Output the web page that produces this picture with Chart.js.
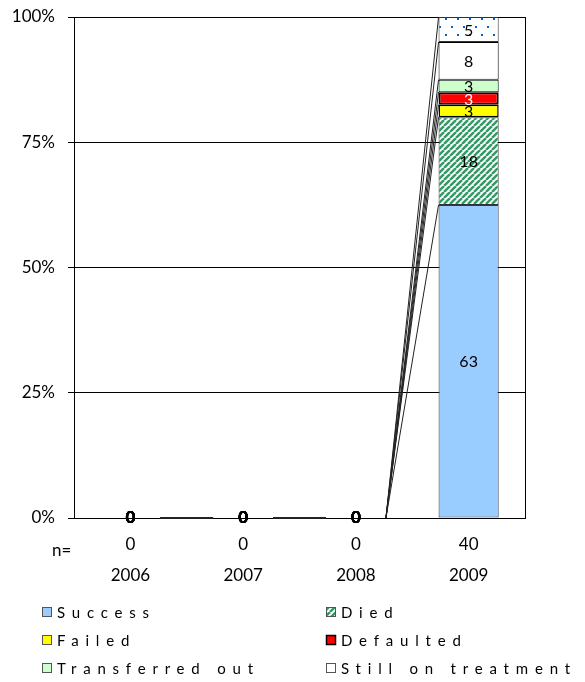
<!DOCTYPE html>
<html>
<head>
<meta charset="utf-8">
<script src="https://cdn.jsdelivr.net/npm/chart.js@4.4.0/dist/chart.umd.min.js"></script>
<style>
  body { margin: 0; background: #fff; }
  #wrap { width: 585px; height: 682px; position: relative; }
</style>
</head>
<body>
<div id="wrap"><canvas id="grafica"></canvas></div>
<script>
// categorias y valores (porcentaje de la cohorte)
const years = ['2006', '2007', '2008', '2009'];
const nValues = [0, 0, 0, 40];
const success = [0, 0, 0, 62.5];
const died = [0, 0, 0, 17.5];
const failed = [0, 0, 0, 2.5];
const defaulted = [0, 0, 0, 2.5];
const transferred = [0, 0, 0, 2.5];
const stillOnTreatment = [0, 0, 0, 7.5];
const notEvaluated = [0, 0, 0, 5];
const yTicks = [0, 25, 50, 75, 100];

// patrones de relleno
function stripePattern() {
  const c = document.createElement('canvas');
  c.width = 6; c.height = 6;
  const g = c.getContext('2d');
  g.fillStyle = '#fff';
  g.fillRect(0, 0, 6, 6);
  g.strokeStyle = '#339966';
  g.lineWidth = 2.5;
  for (let k = -6; k <= 12; k += 6) {
    g.beginPath();
    g.moveTo(k, 6);
    g.lineTo(k + 6, 0);
    g.stroke();
  }
  return g.createPattern(c, 'repeat');
}

function dotPattern() {
  const c = document.createElement('canvas');
  c.width = 24; c.height = 16;
  const g = c.getContext('2d');
  g.fillStyle = '#fff';
  g.fillRect(0, 0, 24, 16);
  g.fillStyle = '#0066CC';
  g.fillRect(1, 2, 2, 2);
  g.fillRect(13, 2, 2, 2);
  g.fillRect(7, 10, 2, 2);
  g.fillRect(19, 10, 2, 2);
  return g.createPattern(c, 'repeat');
}

const ctx = document.getElementById('grafica').getContext('2d');
const diedFill = stripePattern();
const dotsFill = dotPattern();

const series = [
  { label: 'Success', data: success, bg: '#99CCFF', border: '#2a3a4a', bw: 1, text: '#000', legend: true },
  { label: 'Died', data: died, bg: diedFill, border: '#333', bw: 1, text: '#000', legend: true },
  { label: 'Failed', data: failed, bg: '#FFFF00', border: '#000', bw: 1.5, text: '#000', legend: true },
  { label: 'Defaulted', data: defaulted, bg: '#FF0000', border: '#000', bw: 2, text: '#fff', legend: true },
  { label: 'Transferred out', data: transferred, bg: '#CCFFCC', border: '#000', bw: 1, text: '#000', legend: true },
  { label: 'Still on treatment', data: stillOnTreatment, bg: '#FFFFFF', border: '#000', bw: 1, text: '#000', legend: true },
  { label: 'Not evaluated', data: notEvaluated, bg: dotsFill, border: '#333', bw: 1, text: '#000', legend: false }
];

// lineas de serie entre barras (como en Excel)
const seriesLines = {
  id: 'seriesLines',
  afterDatasetsDraw(chart) {
    const c = chart.ctx;
    c.save();
    c.strokeStyle = '#222';
    c.lineWidth = 1;
    chart.data.datasets.forEach((ds, d) => {
      const meta = chart.getDatasetMeta(d);
      for (let i = 0; i < meta.data.length - 1; i++) {
        const a = meta.data[i], b = meta.data[i + 1];
        c.beginPath();
        c.moveTo(a.x + a.width / 2, a.y);
        c.lineTo(b.x - b.width / 2, b.y);
        c.stroke();
      }
    });
    c.restore();
  }
};

// etiquetas de datos
const dataLabels = {
  id: 'dataLabels',
  afterDatasetsDraw(chart) {
    const c = chart.ctx;
    c.save();
    c.textAlign = 'center';
    c.textBaseline = 'middle';
    chart.data.datasets.forEach((ds, d) => {
      const meta = chart.getDatasetMeta(d);
      meta.data.forEach((el, i) => {
        const v = ds.data[i];
        if (v === 0) {
          c.font = 'bold 17px Lato';
          c.fillStyle = '#000';
          c.fillText('0', el.x, el.y);
        } else {
          c.font = '16px Lato';
          c.fillStyle = series[d].text;
          c.fillText(String(Math.round(v)), el.x, (el.y + el.base) / 2 + 1);
        }
      });
    });
    c.restore();
  }
};

// marco, "n=" y leyenda
const extras = {
  id: 'extras',
  afterDraw(chart) {
    const c = chart.ctx;
    const a = chart.chartArea;
    c.save();
    c.strokeStyle = '#000';
    c.lineWidth = 1;
    c.beginPath();
    c.moveTo(a.right + 0.5, a.top);
    c.lineTo(a.right + 0.5, a.bottom);
    c.stroke();

    c.font = '17px Lato';
    c.fillStyle = '#000';
    c.textAlign = 'left';
    c.textBaseline = 'middle';
    c.fillText('n=', 52, 551);

    const items = series.filter(s => s.legend);
    const cols = [42, 326];
    const rows = [612, 640, 668];
    c.font = '15px Lato';
    c.letterSpacing = '6.8px';
    items.forEach((s, k) => {
      const x = cols[k % 2];
      const y = rows[Math.floor(k / 2)];
      c.fillStyle = s.bg;
      c.fillRect(x, y - 5, 10, 10);
      c.strokeStyle = s.label === 'Defaulted' ? '#000' : '#555';
      c.lineWidth = s.label === 'Defaulted' ? 1.5 : 1;
      c.strokeRect(x + 0.5, y - 4.5, 9, 9);
      c.fillStyle = '#000';
      c.fillText(s.label, x + 15, y + 1);
    });
    c.restore();
  }
};

new Chart(ctx, {
  type: 'bar',
  data: {
    labels: years,
    datasets: series.map(s => ({
      label: s.label,
      data: s.data,
      backgroundColor: s.bg,
      borderColor: s.border,
      borderWidth: s.bw,
      borderSkipped: false,
      barPercentage: 60 / 112.5,
      categoryPercentage: 1
    }))
  },
  options: {
    responsive: true,
    maintainAspectRatio: false,
    animation: false,
    layout: { padding: { top: 17, right: 60, left: 0, bottom: 0 } },
    plugins: {
      legend: { display: false },
      tooltip: { enabled: false }
    },
    scales: {
      x: {
        stacked: true,
        grid: { display: false },
        border: { display: true, color: '#000', width: 1 },
        ticks: {
          font: { family: 'Lato', size: 17, lineHeight: 31 / 17 },
          color: '#000',
          padding: 3,
          callback: (v, i) => [String(nValues[i]), years[i]]
        },
        afterFit: s => { s.height = 164; s.paddingLeft = 0; s.paddingRight = 0; }
      },
      y: {
        stacked: true,
        min: 0,
        max: 100,
        afterBuildTicks: s => { s.ticks = yTicks.map(v => ({ value: v })); },
        grid: { color: '#000', lineWidth: 1, tickLength: 6 },
        border: { display: true, color: '#000', width: 1 },
        ticks: {
          font: { family: 'Lato', size: 17 },
          color: '#000',
          padding: 13,
          callback: v => v + '%'
        },
        afterFit: s => { s.width = 74; s.paddingTop = 0; s.paddingBottom = 0; }
      }
    }
  },
  plugins: [seriesLines, dataLabels, extras]
});
</script>
</body>
</html>
